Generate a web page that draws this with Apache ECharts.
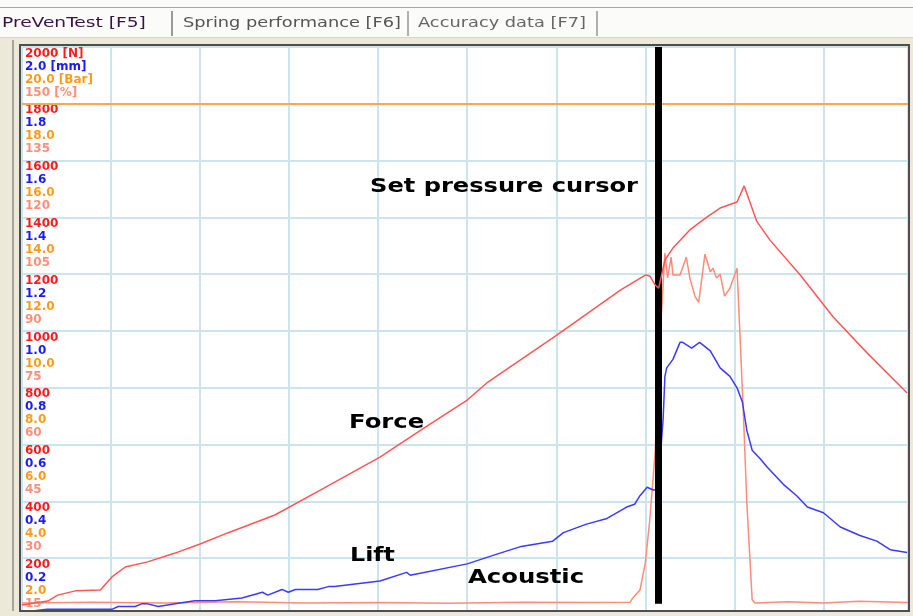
<!DOCTYPE html>
<html>
<head>
<meta charset="utf-8">
<script src="https://cdn.jsdelivr.net/npm/echarts@6/dist/echarts.min.js"></script>
<style>
html, body { margin: 0; padding: 0; background: #ece9d8; }
#chart { width: 913px; height: 616px; }
</style>
</head>
<body>
<div id="chart"></div>
<script>
// force [N]
const forceTime = [0, 0.29, 0.40, 0.60, 0.88, 1.01, 1.16, 1.41, 1.72, 2.00, 2.31, 2.84, 3.35, 4.02, 4.50, 5.00, 5.22, 6.01, 6.72, 7.00, 7.05, 7.11, 7.15, 7.22, 7.31, 7.50, 7.69, 7.84, 8.03, 8.11, 8.25, 8.40, 8.74, 9.11, 9.49, 9.94];
const forceN = [35, 49, 70, 85, 88, 134, 169, 187, 218, 250, 289, 352, 440, 556, 655, 757, 817, 986, 1144, 1197, 1194, 1162, 1151, 1250, 1292, 1356, 1401, 1433, 1454, 1511, 1387, 1320, 1197, 1049, 923, 782];

// lift [mm]
const liftTime = [0, 0.28, 0.88, 1.01, 1.08, 1.27, 1.35, 1.40, 1.53, 1.72, 1.94, 2.17, 2.47, 2.70, 2.76, 2.92, 2.99, 3.07, 3.32, 3.44, 3.51, 4.02, 4.32, 4.36, 5.00, 5.29, 5.59, 5.96, 6.08, 6.34, 6.57, 6.79, 6.88, 6.94, 7.02, 7.09, 7.14, 7.20, 7.22, 7.24, 7.31, 7.39, 7.42, 7.52, 7.61, 7.73, 7.84, 7.95, 8.03, 8.09, 8.14, 8.20, 8.29, 8.37, 8.55, 8.70, 8.82, 9.00, 9.19, 9.41, 9.60, 9.75, 9.94];
const liftMm = [0.01, 0.02, 0.02, 0.02, 0.03, 0.03, 0.04, 0.04, 0.03, 0.04, 0.05, 0.05, 0.06, 0.08, 0.07, 0.09, 0.08, 0.09, 0.09, 0.10, 0.10, 0.12, 0.15, 0.14, 0.18, 0.21, 0.24, 0.26, 0.29, 0.32, 0.34, 0.38, 0.39, 0.42, 0.45, 0.44, 0.44, 0.69, 0.84, 0.87, 0.90, 0.96, 0.96, 0.94, 0.96, 0.93, 0.87, 0.84, 0.80, 0.75, 0.65, 0.58, 0.55, 0.52, 0.46, 0.42, 0.38, 0.36, 0.31, 0.28, 0.26, 0.23, 0.22];

// acoustic [%]
const acousticTime = [0, 0.8, 1.6, 2.4, 3.2, 4.0, 4.8, 5.6, 6.4, 6.83, 6.86, 6.94, 7.00, 7.05, 7.11, 7.17, 7.22, 7.25, 7.29, 7.31, 7.39, 7.46, 7.50, 7.56, 7.60, 7.67, 7.73, 7.76, 7.80, 7.84, 7.89, 7.95, 8.03, 8.05, 8.10, 8.14, 8.20, 8.23, 8.6, 9.0, 9.4, 9.95];
const acousticPct = [3.2, 3.4, 3.2, 3.5, 3.2, 3.3, 3.1, 3.4, 3.3, 3.4, 4.5, 6.6, 13.7, 25.1, 42.8, 75, 95.6, 89.0, 94.5, 89.8, 89.8, 94.5, 89.0, 84.0, 82.6, 95.3, 90.6, 91.6, 89.0, 90.0, 84.2, 86.3, 91.6, 91.1, 54.1, 29.6, 4.0, 3.2, 3.5, 3.2, 3.6, 3.3];

// tick labels, one row per unit
const forceTicks = [200, 400, 600, 800, 1000, 1200, 1400, 1600, 1800, 2000];
const liftTicks = ['0.2', '0.4', '0.6', '0.8', '1.0', '1.2', '1.4', '1.6', '1.8', '2.0 [mm]'];
const pressureTicks = ['2.0', '4.0', '6.0', '8.0', '10.0', '12.0', '14.0', '16.0', '18.0', '20.0 [Bar]'];
const acousticTicks = ['15', '30', '45', '60', '75', '90', '105', '120', '135', '150 [%]'];

const cursorTime = 7.15;
const limitN = 1800;

const zip = (xs, ys) => xs.map((x, i) => [x, ys[i]]);

var chartDom = document.getElementById('chart');
var myChart = echarts.init(chartDom);
var option;

const lbl = (color) => ({ color: color, fontSize: 12, fontWeight: 'bold', fontFamily: 'DejaVu Sans', lineHeight: 13 });
const gridColor = '#cbe4ee';
const txt = (text, x, y, size, sx, color, weight) => ({
	type: 'text', x: x, y: y, scaleX: sx, z: 120,
	style: { text: text, fill: color, font: (weight || '') + ' ' + size + 'px "DejaVu Sans"', verticalAlign: 'middle' }
});

option = {
	animation: false,
	backgroundColor: '#ece9d8',
	grid: { left: 22, right: 5, top: 47, bottom: 1, show: true, backgroundColor: '#fff', borderWidth: 0 },
	xAxis: {
		type: 'value', min: 0, max: 9.95, interval: 1,
		axisLine: { show: false }, axisTick: { show: false }, axisLabel: { show: false },
		splitLine: { lineStyle: { color: gridColor, width: 2 } }
	},
	yAxis: [
		{
			type: 'value', min: 0, max: 2000, interval: 200,
			axisLine: { show: false }, axisTick: { show: false },
			splitLine: { lineStyle: { color: gridColor, width: 2 } },
			axisLabel: {
				inside: true, margin: 3, verticalAlign: 'top',
				formatter: function (v) {
					const i = forceTicks.indexOf(v);
					if (i < 0) return '';
					const n = i === forceTicks.length - 1 ? v + ' [N]' : '' + v;
					return '{a|' + n + '}\n{b|' + liftTicks[i] + '}\n{c|' + pressureTicks[i] + '}\n{d|' + acousticTicks[i] + '}';
				},
				rich: { a: lbl('#ff1a1a'), b: lbl('#1a1aff'), c: lbl('#ff9a1a'), d: lbl('#ff8f78') }
			}
		},
		{ type: 'value', min: 0, max: 2, show: false, splitLine: { show: false } },
		{ type: 'value', min: 0, max: 150, show: false, splitLine: { show: false } }
	],
	series: [
		{
			name: 'Acoustic', type: 'line', yAxisIndex: 2, showSymbol: false, z: 3,
			data: zip(acousticTime, acousticPct),
			lineStyle: { color: '#ff8c78', width: 1.5 }
		},
		{
			name: 'Lift', type: 'line', yAxisIndex: 1, showSymbol: false, z: 4,
			data: zip(liftTime, liftMm),
			lineStyle: { color: '#3a3aff', width: 1.5 }
		},
		{
			name: 'Force', type: 'line', yAxisIndex: 0, showSymbol: false, z: 5,
			data: zip(forceTime, forceN),
			lineStyle: { color: '#ff5555', width: 1.5 },
			markLine: {
				silent: true, symbol: 'none', label: { show: false }, animation: false,
				data: [
					[{ coord: [0, limitN], lineStyle: { color: '#ffa64d', width: 2, type: 'solid' } }, { coord: [9.95, limitN] }],
					[{ coord: [cursorTime, 2000], lineStyle: { color: '#000', width: 7, type: 'solid' } }, { coord: [cursorTime, 40] }]
				]
			}
		}
	],
	graphic: [
		{ type: 'rect', z: 110, shape: { x: 0, y: 0, width: 913, height: 38 }, style: { fill: '#fbfbfa' } },
		{ type: 'rect', z: 111, shape: { x: 0, y: 7, width: 913, height: 1 }, style: { fill: '#a8a8a8' } },
		{ type: 'rect', z: 111, shape: { x: 0, y: 37, width: 913, height: 1 }, style: { fill: '#d8d5c8' } },
		{ type: 'rect', z: 111, shape: { x: 171, y: 11, width: 2, height: 25 }, style: { fill: '#9a9a9a' } },
		{ type: 'rect', z: 111, shape: { x: 407, y: 11, width: 2, height: 25 }, style: { fill: '#b0b0b0' } },
		{ type: 'rect', z: 111, shape: { x: 596, y: 11, width: 2, height: 25 }, style: { fill: '#b0b0b0' } },
		txt('PreVenTest [F5]', 2, 23, 14, 1.33, '#3a1248'),
		txt('Spring performance [F6]', 183, 23, 14, 1.27, '#555'),
		txt('Accuracy data [F7]', 418, 23, 14, 1.27, '#666'),
		{ type: 'rect', z: 110, shape: { x: 12, y: 40, width: 2, height: 576 }, style: { fill: '#a9a69a' } },
		{ type: 'rect', z: 110, shape: { x: 0, y: 611, width: 913, height: 5 }, style: { fill: '#ece9d8' } },
		{ type: 'rect', z: 112, shape: { x: 20, y: 45, width: 889, height: 566 }, style: { fill: 'none', stroke: '#4e4e4e', lineWidth: 2 } },
		txt('Set pressure cursor', 370, 187, 19, 1.27, '#000', 'bold'),
		txt('Force', 349, 423, 19, 1.28, '#000', 'bold'),
		txt('Lift', 350, 556, 19, 1.25, '#000', 'bold'),
		txt('Acoustic', 468, 578, 19, 1.28, '#000', 'bold')
	]
};

option && myChart.setOption(option);
</script>
</body>
</html>
